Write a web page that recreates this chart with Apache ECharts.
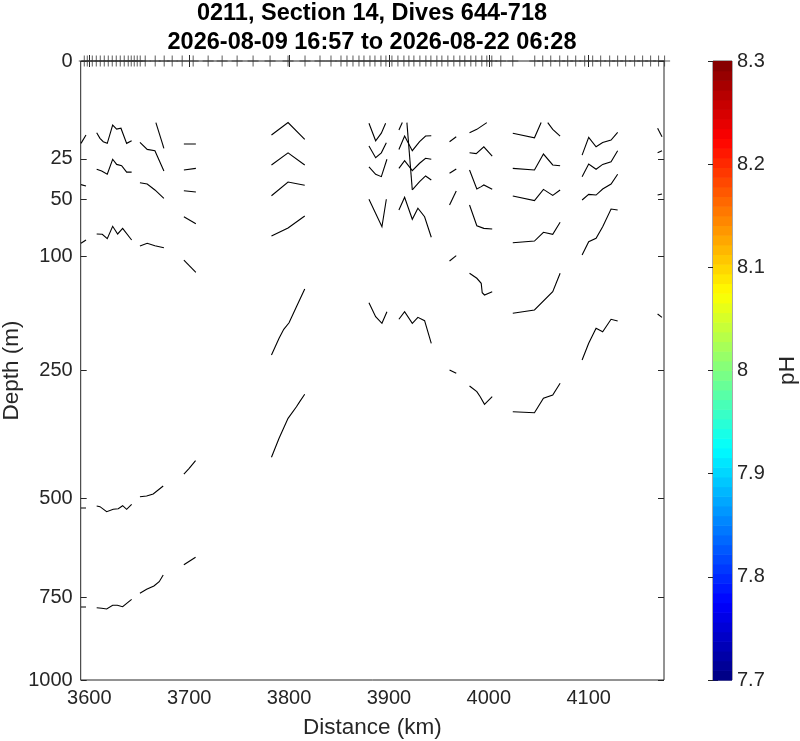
<!DOCTYPE html>
<html>
<head>
<meta charset="utf-8">
<title>0211 Section 14 pH</title>
<script src="https://cdn.jsdelivr.net/npm/echarts@6/dist/echarts.min.js"></script>
<style>
  html, body { margin: 0; padding: 0; background: #fff; }
  #chart { width: 800px; height: 741px; }
</style>
</head>
<body>
<div id="chart"></div>
<script>
// dive positions along the section (km), shown as + marks at the surface
var diveKm = [3595, 3598, 3603, 3607, 3611, 3615, 3619, 3623, 3627, 3631, 3635, 3639, 3642, 3645, 3648, 3651,
  3656, 3666, 3675, 3683, 3693, 3704, 3719, 3733, 3748, 3764, 3781, 3799, 3816, 3831,
  3842, 3852, 3858, 3864, 3870, 3875, 3881, 3886, 3892, 3897, 3903, 3909, 3915, 3920, 3925, 3931,
  3937, 3942, 3948, 3953, 3959, 3965, 3971, 3976, 3982, 3987, 3993, 3998, 4003, 4012, 4024,
  4046, 4054, 4062, 4071, 4079, 4087, 4096, 4104, 4112, 4121, 4129, 4137, 4146, 4154, 4162, 4170, 4176];

var depthTicks = [0, 25, 50, 100, 250, 500, 750, 1000];
var distTicks = [3600, 3700, 3800, 3900, 4000, 4100];
var phTicks = [7.7, 7.8, 7.9, 8, 8.1, 8.2, 8.3];

// contour pieces as [distance km, depth m], grouped by the column they sit in
var colWest = [
  [[3591.7, 17.7], [3596.7, 14.3]],
  [[3591.7, 39.9], [3596.7, 40.8]],
  [[3591.7, 86.7], [3596.7, 83.6]],
  [[3591.7, 521.5], [3596.7, 521.5]],
  [[3591.7, 778.1], [3596.7, 778.1]]
];
var col3607 = [
  [[3607.4, 13.4], [3610.7, 15.6], [3614, 17.0], [3618, 17.7], [3623.4, 10.7], [3627.4, 12.1], [3631.7, 11.8], [3637.4, 17.7], [3642.4, 16.6]],
  [[3607.4, 30.6], [3612.4, 31.6], [3618, 33.5], [3623.4, 25.2], [3627.4, 27.9], [3632.4, 28.6], [3637.4, 32.2], [3642.4, 32.2]],
  [[3607.4, 78.1], [3613, 78.4], [3618, 82.4], [3623.4, 71.3], [3628.4, 78.1], [3633.4, 73.1], [3642.4, 83.6]],
  [[3607.4, 516.8], [3610.7, 518.4], [3617.4, 530.1], [3624, 524.5], [3629, 523.1], [3633.4, 516.1], [3637.4, 524.5], [3642.4, 512.9]],
  [[3607.4, 780.0], [3612.4, 781.8], [3617.4, 783.8], [3623.4, 773.2], [3628, 773.2], [3633.4, 777.2], [3642.4, 756.3]]
];
var col3651 = [
  [[3666.7, 9.9], [3674.7, 19.9]],
  [[3650.7, 17.3], [3658, 20.4], [3665.7, 21.0], [3674.7, 31.6]],
  [[3650.7, 38.7], [3658, 39.5], [3665.7, 43.4], [3674.7, 49.2]],
  [[3650.7, 89.3], [3658, 86.7], [3665.7, 89.0], [3674.7, 91.0]],
  [[3650.7, 495.4], [3657.4, 493.9], [3664, 489.3], [3674, 471.4]],
  [[3650.7, 739.5], [3657.4, 728.5], [3664.7, 719.4], [3670, 707.6], [3674, 689.5]]
];
var col3695 = [
  [[3694.7, 18.0], [3706.7, 18.0]],
  [[3694.7, 31.0], [3706.7, 30.1]],
  [[3694.7, 43.9], [3706.7, 44.8]],
  [[3694.7, 63.3], [3706.7, 69.1]],
  [[3694.7, 103.4], [3706.7, 116.5]],
  [[3694.7, 445.2], [3700, 433.0], [3706.4, 417.0]],
  [[3694.7, 662.2], [3706.4, 642.9]]
];
var col3782 = [
  [[3782.4, 14.3], [3799, 9.9], [3815.7, 16.0]],
  [[3782.4, 28.2], [3799, 22.0], [3815.7, 28.2]],
  [[3782.4, 47.4], [3799, 38.2], [3815.7, 40.3]],
  [[3782.4, 79.9], [3799, 72.8], [3815.7, 62.7]],
  [[3782.4, 225.6], [3790, 200.7], [3794.7, 187.9], [3800, 178.8], [3807.4, 157.6], [3815.7, 135.7]],
  [[3782.4, 409.9], [3790, 371.5], [3799, 333.2], [3807.4, 311.9], [3810.7, 302.9], [3815.7, 289.9]]
];
var col3880 = [
  [[3880, 10.1], [3886.7, 16.6], [3892.4, 13.6], [3896.7, 10.1]],
  [[3880, 18.9], [3886.7, 24.4], [3892.4, 22.0], [3897.4, 17.4]],
  [[3880, 29.2], [3886.7, 33.5], [3892.4, 34.9], [3898, 25.2]],
  [[3880, 49.9], [3893, 71.7], [3897.4, 49.9]],
  [[3880, 152.5], [3886.7, 170.6], [3893, 179.6], [3898, 164.0]]
];
var col3910 = [
  [[3910, 12.4], [3913.4, 9.9]],
  [[3918, 9.9], [3923.4, 43.4]],
  [[3910, 20.4], [3915.7, 14.7], [3923.4, 21.0], [3930.7, 17.0], [3936.7, 14.7], [3942.4, 14.6]],
  [[3910, 30.1], [3915.7, 25.9], [3923.4, 31.4], [3930.7, 27.3], [3936.7, 24.7], [3942.4, 25.2]],
  [[3923.4, 43.4], [3930.7, 38.0], [3936.7, 34.5], [3942.4, 37.0]],
  [[3910, 57.9], [3915.7, 48.5], [3919, 55.4], [3923.4, 65.4], [3929, 56.6], [3935.7, 63.3], [3942.4, 81.1]],
  [[3910, 174.1], [3915.7, 164.0], [3923.4, 179.6], [3929, 171.5], [3935.7, 176.0], [3942.4, 208.0]]
];
var col3961 = [
  [[3960.7, 17.0], [3967.4, 15.0]],
  [[3960.7, 32.9], [3967.4, 30.4]],
  [[3960.7, 54.1], [3967.4, 44.1]],
  [[3960.7, 104.4], [3967.4, 98.9]],
  [[3960.7, 249.2], [3967.4, 254.6]]
];
var col3981 = [
  [[3980.7, 13.4], [3988, 12.2], [3998, 9.9]],
  [[3980.7, 22.0], [3987.4, 22.4], [3995, 19.2], [4003.4, 23.6]],
  [[3980.7, 31.0], [3988, 42.8], [3992.4, 41.2], [3995, 40.1], [4003.4, 43.0]],
  [[3980.7, 54.1], [3988, 70.8], [3995, 73.1], [4003.4, 73.7]],
  [[3980.7, 117.6], [3988, 123.2], [3992.4, 129.0], [3993.4, 140.1], [3995.7, 142.9], [4003.4, 138.9]],
  [[3980.7, 275.7], [3988, 285.4], [3991.4, 294.1], [3995.7, 307.6], [4003.4, 294.1]]
];
var col4024 = [
  [[4024, 13.6], [4045.7, 15.4], [4052.4, 9.9]],
  [[4059, 9.9], [4064, 12.2], [4071.4, 14.7]],
  [[4024, 30.1], [4045.7, 31.0], [4054.7, 22.6], [4064, 28.2], [4071.4, 28.6]],
  [[4024, 47.6], [4045.7, 50.9], [4054.7, 43.0], [4064, 47.1], [4071.4, 43.4]],
  [[4024, 86.2], [4045.7, 84.6], [4054.7, 76.6], [4064, 78.4], [4071.4, 67.9]],
  [[4024, 166.1], [4045.7, 161.8], [4064, 138.9], [4071.4, 117.6]],
  [[4024, 321.0], [4045.7, 322.8], [4054.7, 296.9], [4064, 291.1], [4071.4, 271.1]]
];
var col4093 = [
  [[4093.4, 23.1], [4100, 15.2], [4107.4, 19.2], [4114, 17.3], [4122.4, 16.3], [4129, 13.3]],
  [[4093.4, 34.9], [4100, 27.7], [4107.4, 30.6], [4114, 27.9], [4122.4, 26.5], [4129, 21.0]],
  [[4093.4, 50.4], [4100, 46.4], [4107.4, 46.9], [4114, 42.8], [4122.4, 39.5], [4129, 33.5]],
  [[4093.4, 98.2], [4100, 85.2], [4107.4, 82.1], [4114, 71.7], [4122.4, 57.2], [4129, 57.9]],
  [[4093.4, 233.3], [4100, 208.0], [4107.4, 186.5], [4114, 191.3], [4122.4, 174.1], [4129, 176.4]]
];
var col4169 = [
  [[4169, 11.8], [4173.4, 15.0]],
  [[4169, 22.0], [4173.4, 21.0]],
  [[4169, 46.9], [4173.4, 46.2]],
  [[4169, 167.1], [4173.4, 171.5]]
];

var distMin = 3591.4, distMax = 4175.4;
var depthMax = 1000;
var phMin = 7.7, phMax = 8.3, phSteps = 64;

var ink = '#262626';
var font = "'Liberation Sans', Arial, Helvetica, sans-serif";

// depth axis is square-root scaled
function sq(d) { return Math.sqrt(d); }

function jet(t) {
  function c(v) { return Math.max(0, Math.min(1, v)); }
  var r = c(1.5 - Math.abs(4 * t - 3));
  var g = c(1.5 - Math.abs(4 * t - 2));
  var b = c(1.5 - Math.abs(4 * t - 1));
  return 'rgb(' + Math.round(r * 255) + ',' + Math.round(g * 255) + ',' + Math.round(b * 255) + ')';
}

var contours = [].concat(colWest, col3607, col3651, col3695, col3782, col3880, col3910,
  col3961, col3981, col4024, col4093, col4169).map(function (seg) {
  return { coords: seg.map(function (p) { return [p[0], sq(p[1])]; }) };
});

var bands = [];
for (var i = 0; i < phSteps; i++) {
  bands.push([phMin + (phMax - phMin) * i / phSteps, phMin + (phMax - phMin) * (i + 1) / phSteps, (i + 0.5) / phSteps]);
}

var sqTicks = depthTicks.map(sq);
var tickStyle = { show: true, inside: true, length: 6, lineStyle: { color: ink, width: 1 } };
var labelStyle = { fontSize: 20, color: ink, fontFamily: font };
var nameStyle = { fontSize: 22.5, color: ink, fontFamily: font };

var chart = echarts.init(document.getElementById('chart'));
chart.setOption({
  animation: false,
  backgroundColor: '#fff',
  title: {
    text: '0211, Section 14, Dives 644-718\n2026-08-09 16:57 to 2026-08-22 06:28',
    left: 372, top: -1, padding: 0, textAlign: 'center',
    textStyle: { fontSize: 23.5, fontWeight: 'bold', lineHeight: 29, color: '#000', fontFamily: font }
  },
  grid: [
    { left: 80.7, right: 136, top: 61, bottom: 61, show: true, borderColor: ink, borderWidth: 1,
      containLabel: false, outerBoundsMode: 'none' },
    { left: 713, width: 19, top: 61, bottom: 61, show: true, borderColor: '#555', borderWidth: 1,
      containLabel: false, outerBoundsMode: 'none' }
  ],
  xAxis: [
    { type: 'value', gridIndex: 0, position: 'bottom', min: distMin, max: distMax,
      axisLine: { show: false }, splitLine: { show: false },
      axisTick: Object.assign({ customValues: distTicks }, tickStyle),
      axisLabel: Object.assign({ customValues: distTicks, margin: 8, formatter: function (v) { return String(v); } }, labelStyle),
      name: 'Distance (km)', nameLocation: 'middle', nameGap: 36, nameMoveOverlap: false,
      nameTextStyle: nameStyle },
    { type: 'value', gridIndex: 0, position: 'top', min: distMin, max: distMax,
      axisLine: { show: false }, splitLine: { show: false },
      axisTick: Object.assign({ customValues: distTicks }, tickStyle),
      axisLabel: { show: false } },
    { type: 'value', gridIndex: 1, min: 0, max: 1, show: false }
  ],
  yAxis: [
    { type: 'value', gridIndex: 0, position: 'left', inverse: true, min: 0, max: sq(depthMax),
      axisLine: { show: false }, splitLine: { show: false },
      axisTick: Object.assign({ customValues: sqTicks }, tickStyle),
      axisLabel: Object.assign({ customValues: sqTicks, margin: 8,
        formatter: function (v) { return String(Math.round(v * v)); } }, labelStyle),
      name: 'Depth (m)', nameLocation: 'middle', nameGap: 57, nameRotate: 90, nameMoveOverlap: false,
      nameTextStyle: nameStyle },
    { type: 'value', gridIndex: 0, position: 'right', inverse: true, min: 0, max: sq(depthMax),
      axisLine: { show: false }, splitLine: { show: false },
      axisTick: Object.assign({ customValues: sqTicks }, tickStyle),
      axisLabel: { show: false } },
    { type: 'value', gridIndex: 1, position: 'right', min: phMin, max: phMax,
      axisLine: { show: false }, splitLine: { show: false },
      axisTick: Object.assign({ customValues: phTicks }, tickStyle, { length: 5 }),
      axisLabel: Object.assign({ customValues: phTicks, margin: 5, formatter: function (v) { return String(v); } }, labelStyle),
      name: 'pH', nameLocation: 'middle', nameGap: 44, nameRotate: 90, nameMoveOverlap: false,
      nameTextStyle: nameStyle },
    { type: 'value', gridIndex: 1, position: 'left', min: phMin, max: phMax,
      axisLine: { show: false }, splitLine: { show: false },
      axisTick: Object.assign({ customValues: phTicks }, tickStyle, { length: 5 }),
      axisLabel: { show: false } }
  ],
  series: [
    {
      type: 'lines', coordinateSystem: 'cartesian2d', xAxisIndex: 0, yAxisIndex: 0,
      polyline: true, silent: true,
      lineStyle: { color: '#000', width: 1.1, opacity: 1 },
      data: contours
    },
    {
      type: 'scatter', xAxisIndex: 0, yAxisIndex: 0, clip: false, silent: true,
      symbol: 'path://M0,-1L0,1M-1,0L1,0', symbolSize: 11,
      itemStyle: { color: 'transparent', borderColor: '#333', borderWidth: 1 },
      data: diveKm.map(function (k) { return [k, 0]; })
    },
    {
      type: 'custom', xAxisIndex: 2, yAxisIndex: 2, silent: true,
      renderItem: function (params, api) {
        var a = api.coord([0, api.value(0)]);
        var b = api.coord([1, api.value(1)]);
        return {
          type: 'rect',
          shape: { x: a[0], y: b[1], width: b[0] - a[0], height: a[1] - b[1] + 0.6 },
          style: { fill: jet(api.value(2)) }
        };
      },
      data: bands
    }
  ]
});
</script>
</body>
</html>
